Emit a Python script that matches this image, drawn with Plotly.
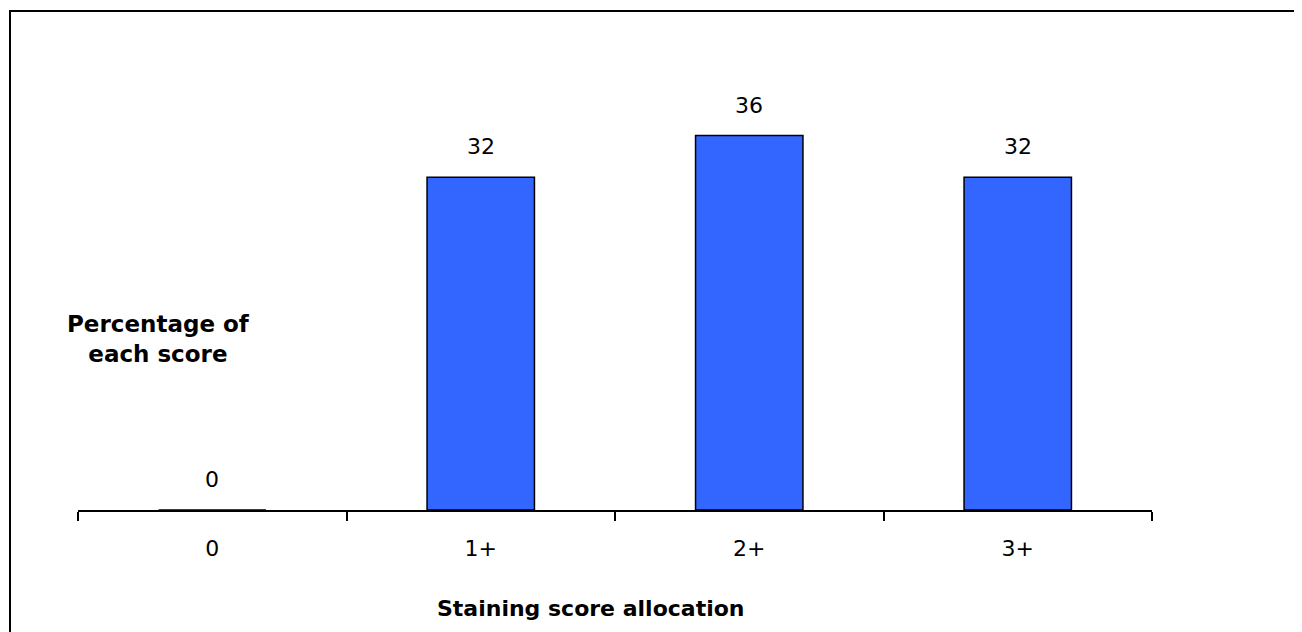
import plotly.graph_objects as go

categories = ["0", "1+", "2+", "3+"]
percentages = [0, 32, 36, 32]
x_title = "Staining score allocation"
y_title = "Percentage of<br>each score"

OFF = 8  # page body margin
W, H = 1302 - OFF, 632 - OFF
L = 78 - OFF
R = W - (1152 - OFF)
T = 42 - OFF
B = H - (510 - OFF)
ymax = 45

fig = go.Figure()
fig.add_trace(go.Bar(
    x=categories, y=percentages, width=0.4,
    marker=dict(color="#3366FF", line=dict(color="black", width=1.5)),
    hoverinfo="x+y",
))

for c, v in zip(categories, percentages):
    fig.add_annotation(x=c, y=v, text=str(v), showarrow=False,
                       yanchor="bottom", yshift=16,
                       font=dict(family="DejaVu Sans", size=22, color="black"))

pw = W - L - R
ph = H - T - B
base = H - B  # pixel y of baseline within figure


def px_x(p):
    return (p - OFF - L) / pw


def px_y(p):
    return (base - (p - OFF)) / ph


fig.add_annotation(xref="paper", yref="paper", x=px_x(158), y=px_y(339),
                   text=y_title, showarrow=False, xanchor="center", yanchor="middle",
                   align="center",
                   font=dict(family="DejaVu Sans", size=23, color="black", weight="bold"))
fig.add_annotation(xref="paper", yref="paper", x=px_x(590), y=px_y(608),
                   text=x_title, showarrow=False, xanchor="center", yanchor="middle",
                   font=dict(family="DejaVu Sans", size=22, color="black", weight="bold"))

fig.add_shape(type="rect", xref="paper", yref="paper",
              x0=px_x(10), x1=px_x(1306),
              y0=px_y(645), y1=px_y(11),
              line=dict(color="black", width=2), fillcolor="rgba(0,0,0,0)")

fig.update_layout(
    width=W, height=H,
    margin=dict(l=L, r=R, t=T, b=B, pad=0),
    paper_bgcolor="white", plot_bgcolor="white",
    showlegend=False,
    font=dict(family="DejaVu Sans", color="black"),
    xaxis=dict(range=[-0.5, 3.5], showline=True, linecolor="black", linewidth=2,
               ticks="outside", tickson="boundaries", ticklen=9, tickwidth=2,
               tickcolor="black", showgrid=False, zeroline=False,
               tickfont=dict(family="DejaVu Sans", size=22, color="black"),
               ticklabelstandoff=18),
    yaxis=dict(range=[0, ymax], visible=False, showgrid=False, zeroline=False),
)

fig.write_html("out.html")
